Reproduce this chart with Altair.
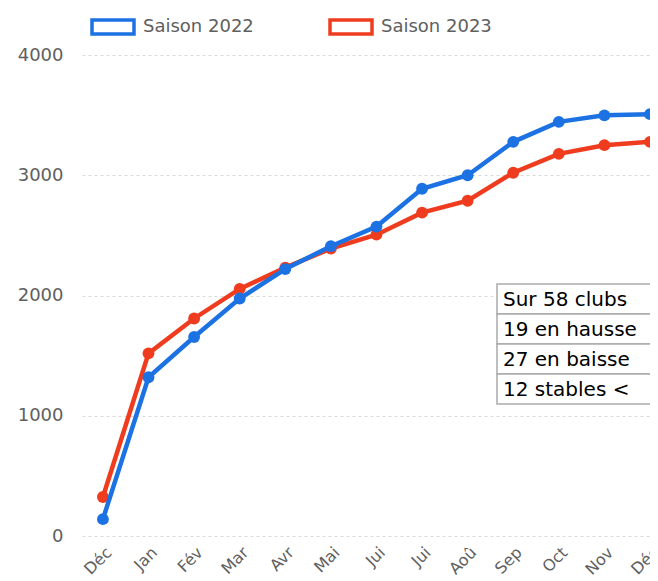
import altair as alt
import pandas as pd

# ---- data ----
month_labels = ["Déc", "Jan", "Fév", "Mar", "Avr", "Mai", "Jui", "Jui", "Aoû", "Sep", "Oct", "Nov", "Déc"]
saison_2022 = [140, 1320, 1655, 1975, 2220, 2410, 2573, 2888, 3000, 3278, 3444, 3498, 3508]
saison_2023 = [324, 1519, 1809, 2055, 2232, 2390, 2506, 2689, 2788, 3021, 3178, 3250, 3278]
series_names = ["Saison 2022", "Saison 2023"]
series_colors = ["#1C72E3", "#F03C1E"]
table_rows = ["Sur 58 clubs", "19 en hausse", "27 en baisse", "12 stables <"]

rows = []
for name, vals in zip(series_names, [saison_2022, saison_2023]):
    for i, v in enumerate(vals):
        rows.append({"i": i, "v": v, "s": name})
df = pd.DataFrame(rows)

label_expr = "[" + ",".join("'" + m + "'" for m in month_labels) + "][datum.value]"

PLOT_W = 568
x_enc = alt.X(
    "i:Q",
    scale=alt.Scale(domain=[-0.459, 12.0], nice=False, zero=False),
    axis=alt.Axis(
        values=list(range(len(month_labels))),
        labelExpr=label_expr,
        labelAngle=315,
        grid=False,
        title=None,
        labelFont="DejaVu Sans",
        labelFontSize=16,
        labelColor="#606060",
        labelPadding=8,
        labelOverlap=False,
        labelBound=False,
    ),
)
y_enc = alt.Y(
    "v:Q",
    scale=alt.Scale(domain=[0, 4000], nice=False),
    axis=alt.Axis(
        values=[0, 1000, 2000, 3000, 4000],
        format="d",
        grid=True,
        gridDash=[3, 3],
        gridColor="#d8d8d8",
        gridWidth=1,
        title=None,
        labelFont="DejaVu Sans",
        labelFontSize=18,
        labelColor="#606060",
        labelPadding=19,
    ),
)

color_scale = alt.Scale(domain=series_names, range=series_colors)

layers = []
for name in ["Saison 2023", "Saison 2022"]:
    base = alt.Chart(df).transform_filter(alt.datum.s == name)
    line = base.mark_line(strokeWidth=4.5).encode(
        x=x_enc, y=y_enc, color=alt.Color("s:N", scale=color_scale, legend=None)
    )
    pts = base.mark_point(filled=True, size=140, opacity=1).encode(
        x=x_enc, y=y_enc, color=alt.Color("s:N", scale=color_scale, legend=None)
    )
    layers += [line, pts]

# ---- legend (drawn as marks above the plot area) ----
for k, (name, col) in enumerate(zip(series_names, series_colors)):
    ldf = pd.DataFrame({"t": [name]})
    lx = 10 + k * 238
    sym = alt.Chart(ldf).mark_rect(fill="white", stroke=col, strokeWidth=3.5).encode(
        x=alt.value(lx), x2=alt.value(lx + 42), y=alt.value(-35), y2=alt.value(-21)
    )
    lab = alt.Chart(ldf).mark_text(
        align="left", baseline="middle", font="DejaVu Sans", fontSize=18, color="#606060"
    ).encode(x=alt.value(lx + 51), y=alt.value(-28), text="t:N")
    layers += [sym, lab]

# ---- table overlay (pixel layout within plot area) ----
tab_left = 415
tab_top = 229
row_h = 30
for k, t in enumerate(table_rows):
    tdf = pd.DataFrame({"t": [t]})
    y0 = tab_top + k * row_h
    rect = alt.Chart(tdf).mark_rect(fill="white", stroke="#aaaaaa", strokeWidth=1.5).encode(
        x=alt.value(tab_left), x2=alt.value(720), y=alt.value(y0), y2=alt.value(y0 + row_h)
    )
    txt = alt.Chart(tdf).mark_text(
        align="left", baseline="middle", font="DejaVu Sans", fontSize=20,
        color="#000000"
    ).encode(x=alt.value(tab_left + 6), y=alt.value(y0 + row_h / 2 + 1), text="t:N")
    layers += [rect, txt]

chart = alt.layer(*layers).properties(
    width=PLOT_W,
    height=481,
    autosize=alt.AutoSizeParams(type="none"),
    padding={"left": 74, "top": 47, "right": 0, "bottom": 45},
).configure_view(stroke=None).configure_axis(domain=False, ticks=False)

chart.save("out.html", embed_options={"renderer": "svg", "actions": False})
